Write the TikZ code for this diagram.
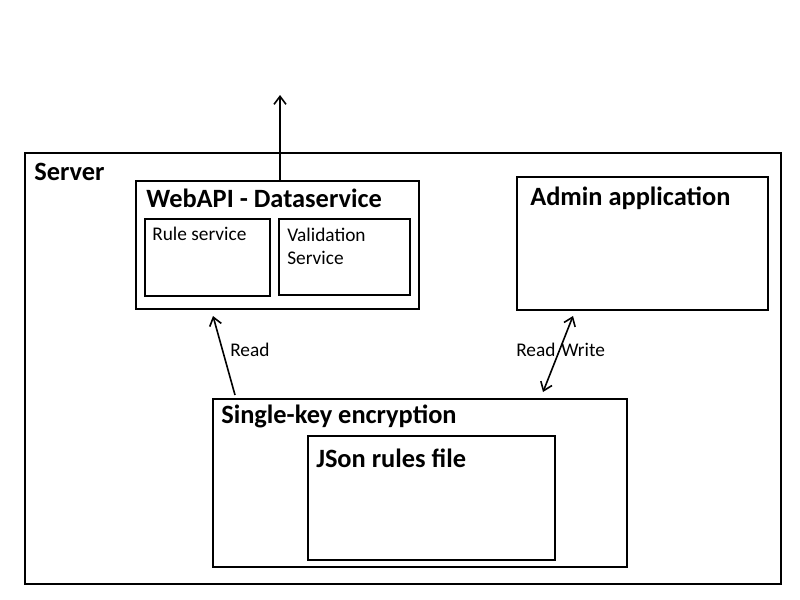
\documentclass[tikz,border=0pt]{standalone}
\usepackage{fontspec}
\setmainfont{Carlito}
\usetikzlibrary{fit,arrows.meta}
\begin{document}
\begin{tikzpicture}[x=0.75pt,y=-0.75pt,
  box/.style={draw,line width=1.5pt,inner sep=0pt},
  title/.style={anchor=base west,inner sep=0pt,font=\bfseries\fontsize{19.8}{24}\selectfont},
  label/.style={anchor=base west,inner sep=0pt,font=\fontsize{14.5}{17}\selectfont},
  conn/.style={line width=1.2pt,-{Straight Barb[length=6pt,width=9pt,line width=1.2pt]}},
  conn2/.style={line width=1.2pt,{Straight Barb[length=6pt,width=9pt,line width=1.2pt]}-{Straight Barb[length=6pt,width=9pt,line width=1.2pt]}}]
\useasboundingbox (0,0) rectangle (800,600);
\fill[white] (0,0) rectangle (800,600);
\node[box,fit={(25,153) (781,584)}] (server) {};
\node[box,fit={(136,181) (419,309)}] (webapi) {};
\node[box,fit={(145,219) (270,296)}] (rule) {};
\node[box,fit={(279,219) (410,295)}] (valid) {};
\node[box,fit={(517,177) (768,310)}] (admin) {};
\node[box,fit={(213,399) (627,567)}] (sk) {};
\node[box,fit={(308,436) (555,560)}] (json) {};
\node[title] (tserver) at (34,180) {Server};
\node[title] (twebapi) at (146,207) {WebAPI - Dataservice};
\node[label] (trule) at (152,240) {Rule service};
\node[label] (tvalid1) at (287,241) {Validation};
\node[label] (tvalid2) at (287,264) {Service};
\node[title] (tadmin) at (530,205) {Admin application};
\node[title] (tsk) at (221,423) {Single-key encryption};
\node[title] (tjson) at (316,467) {JSon rules file};
\node[label] (tread) at (230,356) {Read};
\node[label] (trw) at (516,356) {Read\hspace{0.3em}Write};
\coordinate (out) at (280,95);
\coordinate (r1) at (235,395);
\coordinate (r2) at (213,316);
\coordinate (w1) at (543,392);
\coordinate (w2) at (573,316);
\draw[conn] (webapi.north -| out) -- (out);
\draw[conn] (r1) -- (r2);
\draw[conn2] (w1) -- (w2);
\end{tikzpicture}
\end{document}
